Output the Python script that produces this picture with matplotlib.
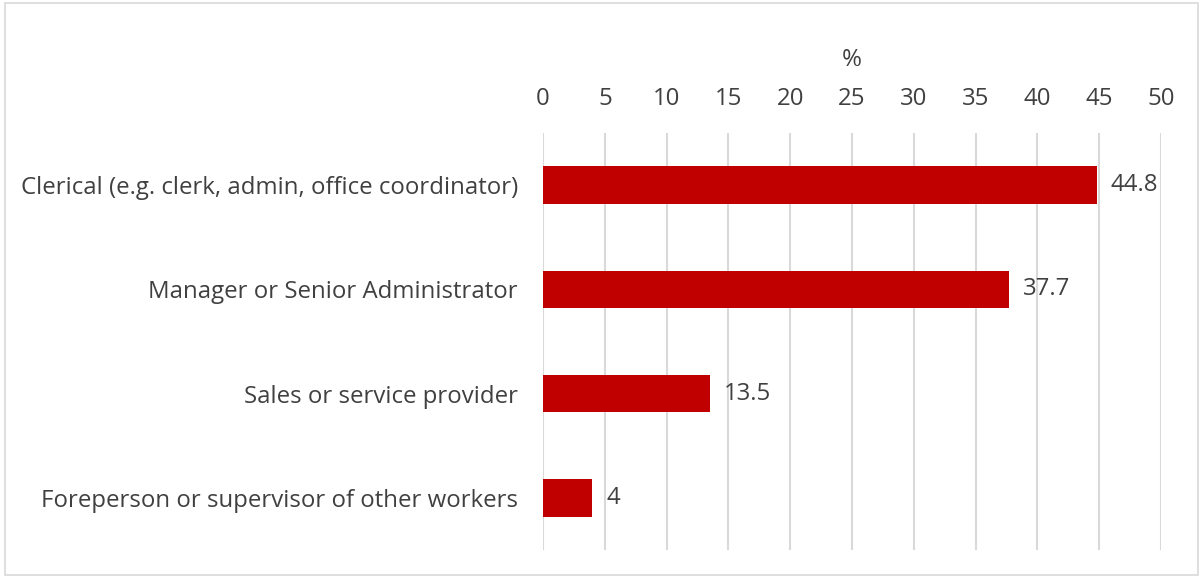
import matplotlib.pyplot as plt
from matplotlib.patches import Rectangle

plt.rcParams['font.family'] = ['Open Sans', 'DejaVu Sans']

categories = [
    'Clerical (e.g. clerk, admin, office coordinator)',
    'Manager or Senior Administrator',
    'Sales or service provider',
    'Foreperson or supervisor of other workers',
]
values = [44.8, 37.7, 13.5, 4]
xticks = [0, 5, 10, 15, 20, 25, 30, 35, 40, 45, 50]

text_col = '#404040'
bar_col = '#C00000'
fs = 17.3

fig = plt.figure(figsize=(12.03, 5.78), dpi=100)
ax = fig.add_axes([0.4514, 0.0484, 0.5137, 0.7215])

pos = list(range(len(categories)))
ax.barh(pos, values, height=0.36, color=bar_col, zorder=3)
for p, v in zip(pos, values):
    ax.text(v + 1.1, p, f'{v:g}', va='center', ha='left',
            fontsize=fs, color=text_col)

ax.set_xlim(0, 50)
ax.set_ylim(len(categories) - 0.5, -0.5)
ax.set_yticks(pos)
ax.set_yticklabels(categories, fontsize=fs, color=text_col)
ax.set_xticks(xticks)
ax.xaxis.tick_top()
ax.xaxis.set_label_position('top')
ax.set_xlabel('%', fontsize=fs, color=text_col, labelpad=15)
ax.tick_params(axis='x', length=0, pad=16, labelsize=fs, labelcolor=text_col)
ax.tick_params(axis='y', length=0, pad=18)
ax.grid(axis='x', color='#D9D9D9', linewidth=1.5, zorder=0)
for s in ax.spines.values():
    s.set_visible(False)

# light frame round the whole chart
fig.patches.append(Rectangle((0.004, 0.006), 0.992, 0.988, transform=fig.transFigure,
                             fill=False, edgecolor='#D9D9D9', linewidth=1.2))

fig.savefig('out.png', dpi=100)
